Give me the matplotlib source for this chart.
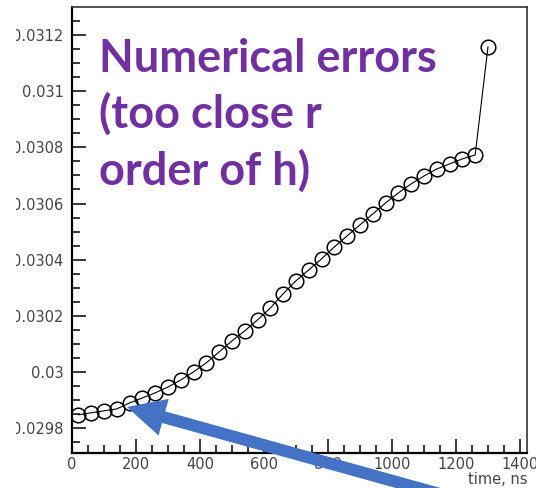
import numpy as np
import matplotlib
matplotlib.use("Agg")
from matplotlib import pyplot as plt
from matplotlib.ticker import MultipleLocator, FuncFormatter
from matplotlib.patches import FancyArrow, Rectangle

# time, ns
time_ns = [20, 60, 100, 140, 180, 220, 260, 300, 340, 380, 420, 460, 500, 540,
           580, 620, 660, 700, 740, 780, 820, 860, 900, 940, 980, 1020, 1060,
           1100, 1140, 1180, 1220, 1260, 1300]
# measured value
values = [0.029848, 0.029855, 0.029862, 0.029869, 0.029890, 0.029908, 0.029926,
          0.029947, 0.029972, 0.030001, 0.030033, 0.030072, 0.030111, 0.030147,
          0.030186, 0.030228, 0.030279, 0.030325, 0.030364, 0.030403, 0.030446,
          0.030485, 0.030524, 0.030563, 0.030602, 0.030638, 0.030670, 0.030698,
          0.030723, 0.030741, 0.030759, 0.030773, 0.031157]

note_lines = ["Numerical errors", "(too close r", "order of h)"]
x_label = "time, ns"

W, H = 536, 488
fig = plt.figure(figsize=(W / 100, H / 100), dpi=100)
ax = fig.add_axes([72 / W, 1 - 452.7 / H, 455 / W, 445.4 / H])

ax.plot(time_ns, values, color="black", lw=0.8, marker="o", ms=10.5,
        mfc="none", mec="black", mew=1.1)

ax.set_xlim(0, 1422)
ax.set_ylim(0.029713, 0.0312986)

ax.xaxis.set_major_locator(MultipleLocator(200))
ax.xaxis.set_minor_locator(MultipleLocator(50))
ax.yaxis.set_major_locator(MultipleLocator(0.0002))
ax.yaxis.set_minor_locator(MultipleLocator(0.00005))
ax.xaxis.set_major_formatter(FuncFormatter(lambda v, p: "%g" % round(v, 6)))
ax.yaxis.set_major_formatter(FuncFormatter(lambda v, p: "%g" % round(v, 7)))

ax.tick_params(which="both", direction="in", top=False, right=False,
               colors="black", labelcolor="#444444", width=1.1,
               labelsize=10.5)
ax.tick_params(which="major", length=10)
ax.tick_params(which="minor", length=6)
ax.tick_params(axis="y", pad=6)
ax.tick_params(axis="x", pad=3)

for side in ["left", "bottom"]:
    ax.spines[side].set_linewidth(1.6)
for side in ["top", "right"]:
    ax.spines[side].set_linewidth(1.2)
    ax.spines[side].set_color("#333333")

ax.text(1.0, -0.044, x_label, transform=ax.transAxes, ha="right", va="top",
        fontsize=10.5, color="#444444")

# overlay in pixel units: crop strip, note and blue arrow
over = fig.add_axes([0, 0, 1, 1])
over.set_xlim(0, W)
over.set_ylim(H, 0)
over.axis("off")
over.add_patch(Rectangle((0, 0), 16, H, color="white", lw=0))

for line, base in zip(note_lines, [72, 128, 185]):
    over.text(99, base, line, ha="left", va="baseline", fontsize=32.5,
              fontweight="bold", color="#7030A0", family="Lato")

tail = np.array([447, 496])
tip = np.array([127, 407])
d = tip - tail
over.add_patch(FancyArrow(tail[0], tail[1], d[0], d[1], width=12,
                          head_width=38, head_length=38,
                          length_includes_head=True, color="#4472C4", lw=0))

fig.savefig("out.png", dpi=100)
